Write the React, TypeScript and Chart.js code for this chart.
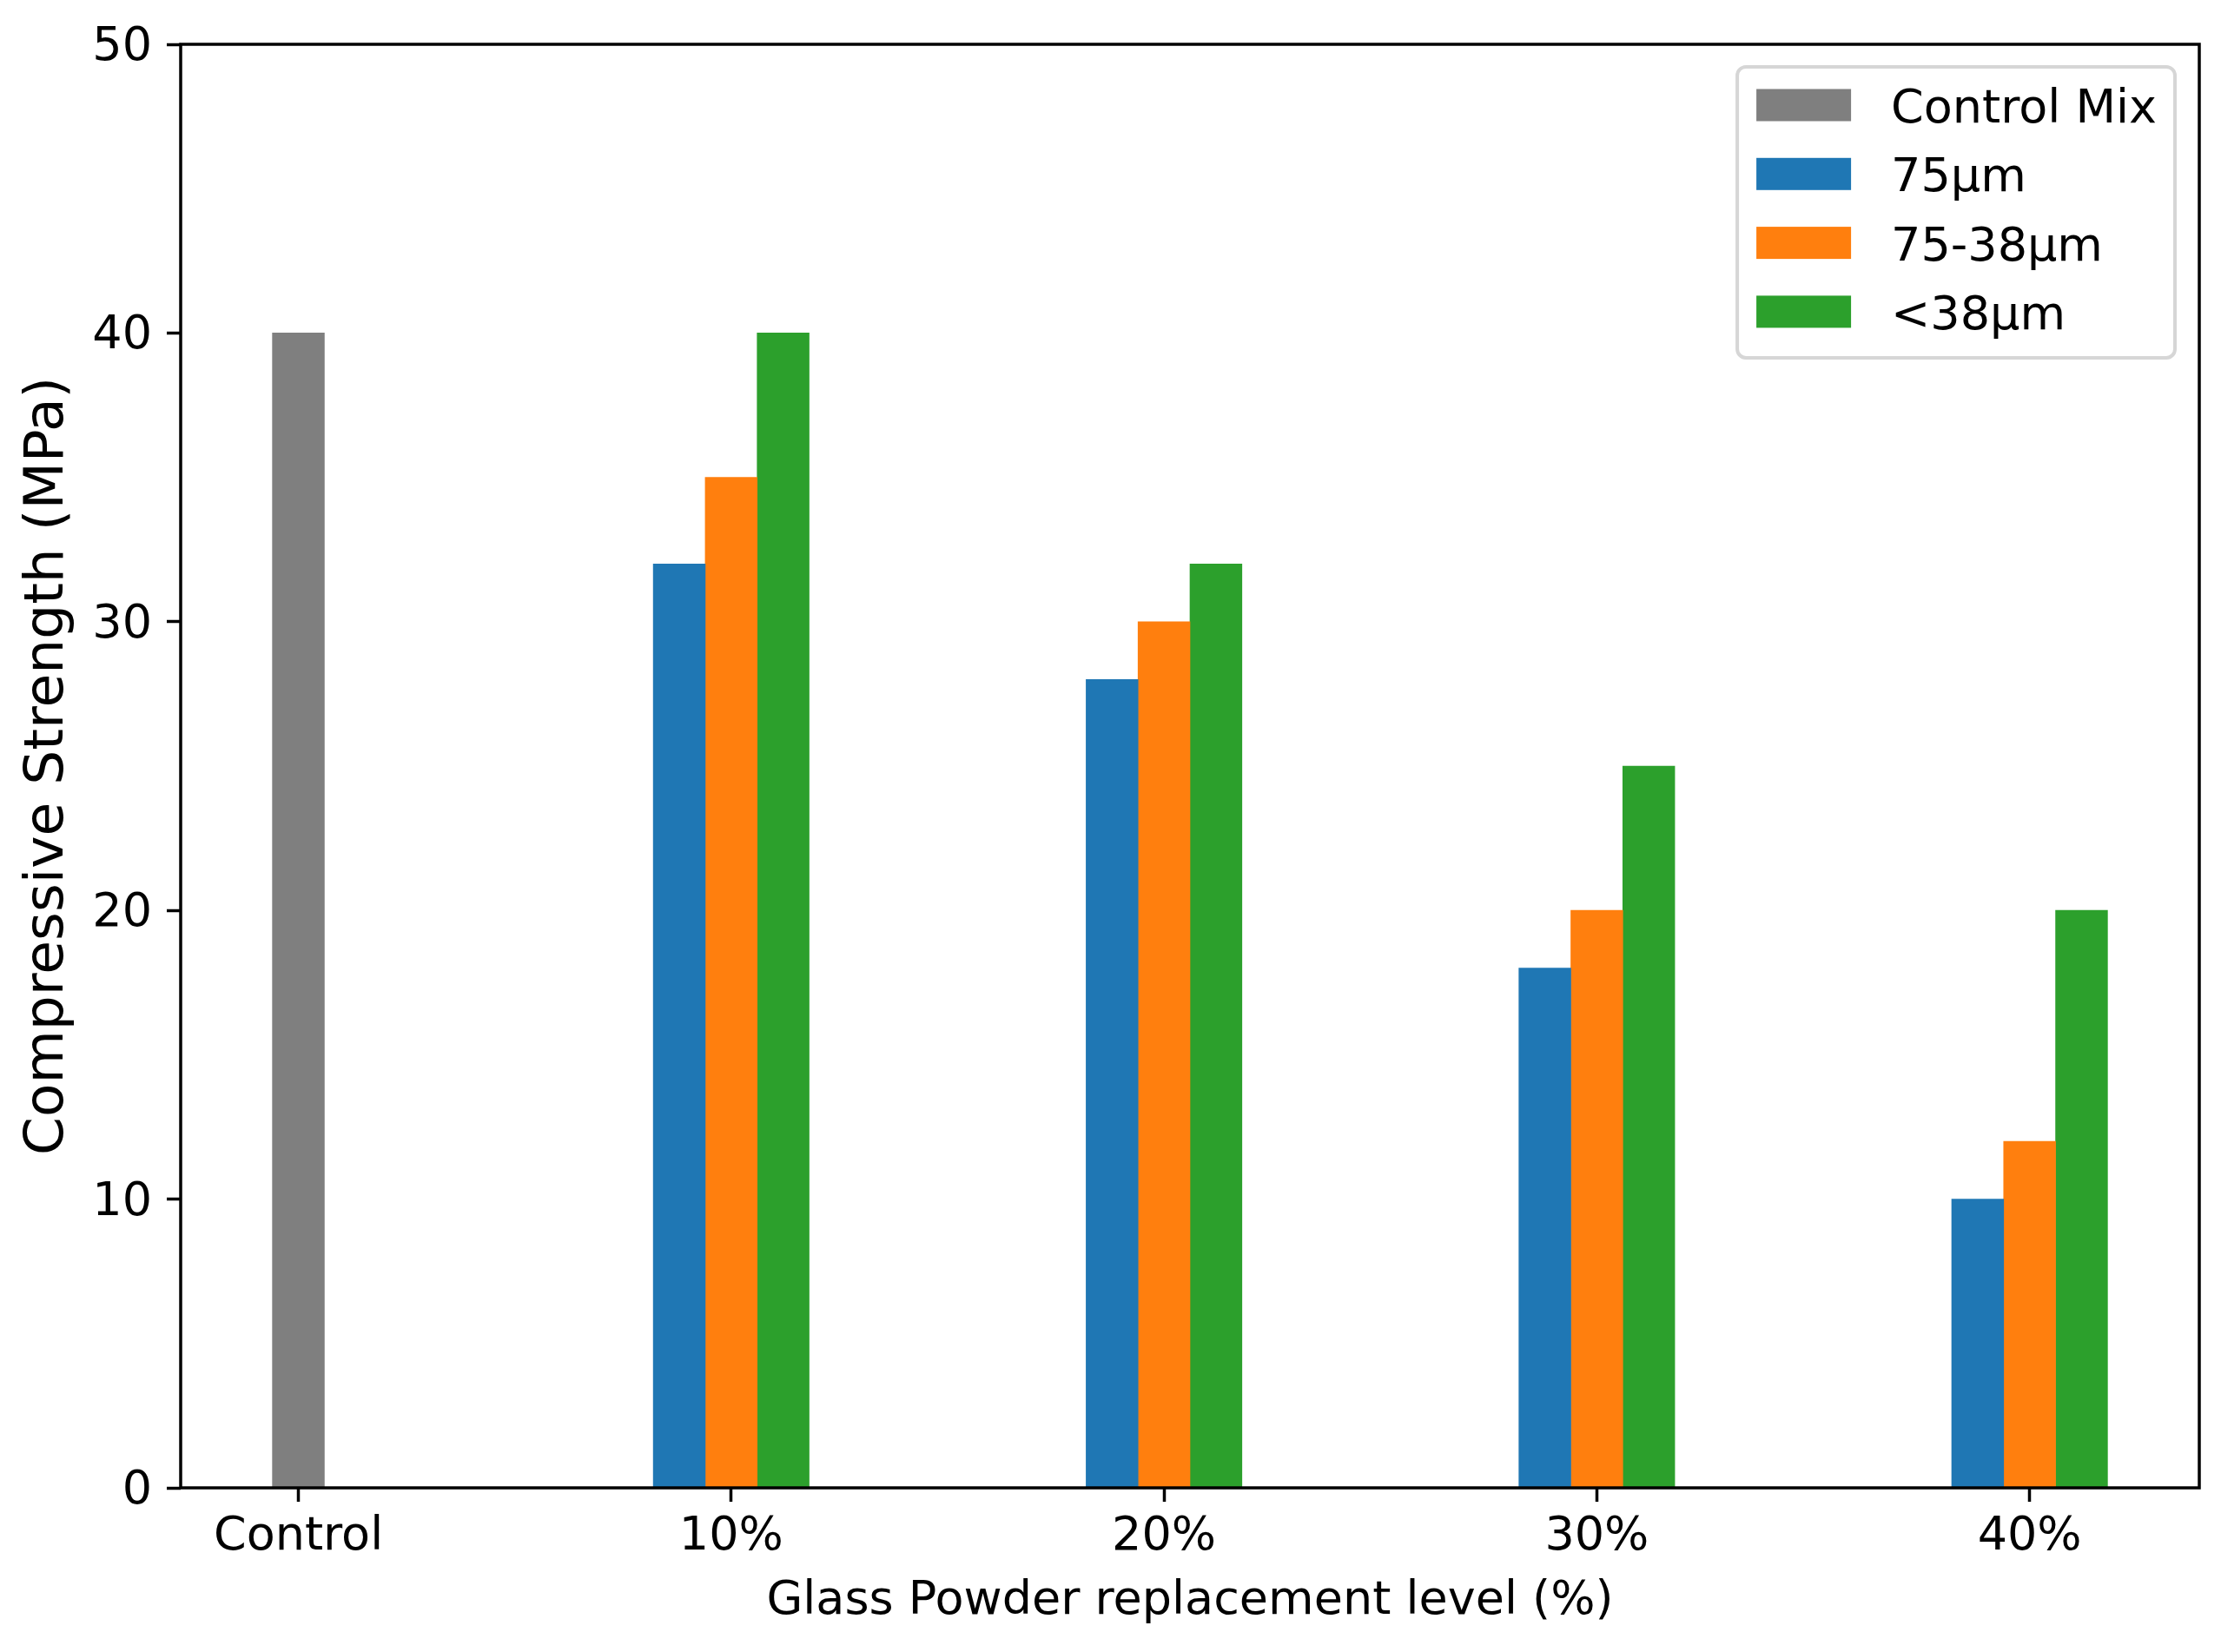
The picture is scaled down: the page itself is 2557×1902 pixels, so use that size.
import React, { useEffect, useRef } from 'react';
import { Chart, registerables } from 'chart.js';

Chart.register(...registerables);

// ---- data ----
const categories = ['Control', '10%', '20%', '30%', '40%'];
const seriesNames = ['Control Mix', '75µm', '75-38µm', '<38µm'];
const controlMix = [40];
const fine75 = [32, 28, 18, 10];
const mid75to38 = [35, 30, 20, 12];
const below38 = [40, 32, 25, 20];
const yTicks = [0, 10, 20, 30, 40, 50];
const colors = ['#7f7f7f', '#1f77b4', '#ff7f0e', '#2ca02c'];

const xAxisTitle = 'Glass Powder replacement level (%)';
const yAxisTitle = 'Compressive Strength (MPa)';

const BAR_W = 0.12;
const FONT = "'DejaVu Sans', sans-serif";
const W = 2557;
const H = 1902;

const framePlugin = {
  id: 'frame',
  afterDatasetsDraw(chart: any) {
    const { ctx, chartArea } = chart;
    ctx.save();
    ctx.strokeStyle = '#000';
    ctx.lineWidth = 3.5;
    ctx.strokeRect(chartArea.left, chartArea.top, chartArea.right - chartArea.left, chartArea.bottom - chartArea.top);
    ctx.restore();
  },
};

const legendPlugin = {
  id: 'mplLegend',
  afterDraw(chart: any) {
    const { ctx, chartArea } = chart;
    const fs = 54;
    ctx.save();
    ctx.font = `${fs}px ${FONT}`;
    const labels = chart.data.datasets.map((d: any) => d.label as string);
    const textW = Math.max(...labels.map((l: string) => ctx.measureText(l).width));
    const padL = 22, swW = 109, swH = 37, gap = 46, padR = 21;
    const right = chartArea.right - 28;
    const top = chartArea.top + 26;
    const left = right - (padL + swW + gap + textW + padR);
    const firstOff = 44, step = 79.3, bottomOff = 53;
    const bottom = top + firstOff + step * (labels.length - 1) + bottomOff;
    const r = 10;
    ctx.beginPath();
    ctx.moveTo(left + r, top);
    ctx.lineTo(right - r, top);
    ctx.arcTo(right, top, right, top + r, r);
    ctx.lineTo(right, bottom - r);
    ctx.arcTo(right, bottom, right - r, bottom, r);
    ctx.lineTo(left + r, bottom);
    ctx.arcTo(left, bottom, left, bottom - r, r);
    ctx.lineTo(left, top + r);
    ctx.arcTo(left, top, left + r, top, r);
    ctx.closePath();
    ctx.fillStyle = 'rgba(255,255,255,0.8)';
    ctx.fill();
    ctx.strokeStyle = '#d6d6d6';
    ctx.lineWidth = 4;
    ctx.stroke();
    chart.data.datasets.forEach((d: any, i: number) => {
      const cy = top + firstOff + step * i;
      ctx.fillStyle = d.backgroundColor;
      ctx.fillRect(left + padL, cy - swH / 2, swW, swH);
      ctx.fillStyle = '#000';
      ctx.textAlign = 'left';
      ctx.textBaseline = 'middle';
      ctx.fillText(d.label, left + padL + swW + gap, cy + 6);
    });
    ctx.restore();
  },
};

export default function App() {
  const ref = useRef<HTMLCanvasElement>(null);

  useEffect(() => {
    const groups = [fine75, mid75to38, below38];
    const offsets = [-BAR_W, 0, BAR_W];
    const datasets: any[] = [
      {
        label: seriesNames[0],
        data: controlMix.map((v, i) => ({ x: i, y: v })),
        backgroundColor: colors[0],
      },
      ...groups.map((arr, g) => ({
        label: seriesNames[g + 1],
        data: arr.map((v, i) => ({ x: i + 1 + offsets[g], y: v })),
        backgroundColor: colors[g + 1],
      })),
    ].map((d) => ({
      ...d,
      grouped: false,
      barPercentage: 1,
      categoryPercentage: 1,
      borderWidth: 0,
    }));

    const chart = new Chart(ref.current as HTMLCanvasElement, {
      type: 'bar',
      data: { datasets },
      options: {
        responsive: false,
        devicePixelRatio: 1,
        animation: false,
        layout: { padding: { top: 51, right: 25, left: 0, bottom: 0 } },
        plugins: {
          legend: { display: false },
          tooltip: { enabled: false },
        },
        scales: {
          x: {
            type: 'linear',
            min: -0.272,
            max: 4.392,
            offset: false,
            bounds: 'data',
            afterBuildTicks: (scale: any) => {
              scale.ticks = categories.map((_, i) => ({ value: i }));
            },
            afterFit: (scale: any) => {
              scale.height = 189;
            },
            ticks: {
              autoSkip: false,
              maxRotation: 0,
              padding: 9,
              color: '#000',
              font: { family: FONT, size: 54 },
              callback: (v: any) => categories[v as number] ?? '',
            },
            grid: {
              display: true,
              offset: false,
              drawOnChartArea: false,
              drawTicks: true,
              tickLength: 16,
              tickWidth: 3.5,
              tickColor: '#000',
              color: '#000',
            },
            border: { display: false },
            title: {
              display: true,
              text: xAxisTitle,
              color: '#000',
              font: { family: FONT, size: 54 },
              padding: { top: 0, bottom: 26 },
            },
          },
          y: {
            type: 'linear',
            min: yTicks[0],
            max: yTicks[yTicks.length - 1],
            afterBuildTicks: (scale: any) => {
              scale.ticks = yTicks.map((v) => ({ value: v }));
            },
            afterFit: (scale: any) => {
              scale.width = 208;
            },
            ticks: {
              padding: 17,
              labelOffset: 4,
              color: '#000',
              font: { family: FONT, size: 54 },
            },
            grid: {
              display: true,
              drawOnChartArea: false,
              drawTicks: true,
              tickLength: 16,
              tickWidth: 3.5,
              tickColor: '#000',
              color: '#000',
            },
            border: { display: false },
            title: {
              display: true,
              text: yAxisTitle,
              color: '#000',
              font: { family: FONT, size: 63 },
              padding: { top: 18, bottom: 0 },
            },
          },
        },
      } as any,
      plugins: [framePlugin, legendPlugin],
    });
    return () => chart.destroy();
  }, []);

  return (
    <div style={{ position: 'fixed', left: 0, top: 0, width: W, height: H, background: '#fff' }}>
      <canvas ref={ref} width={W} height={H} style={{ display: 'block', width: W, height: H }} />
    </div>
  );
}
